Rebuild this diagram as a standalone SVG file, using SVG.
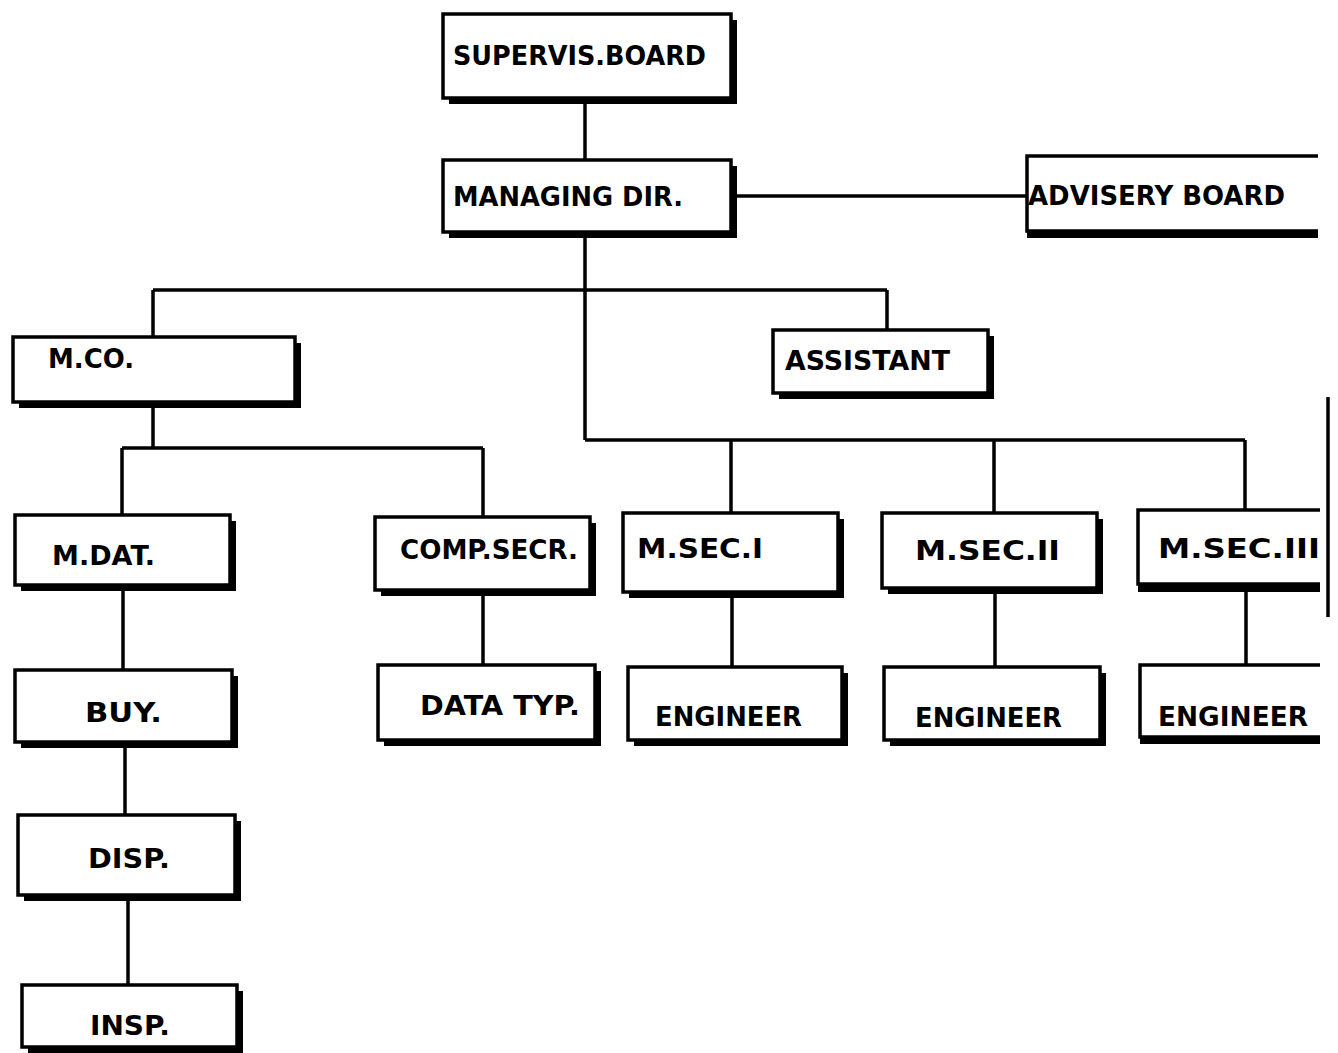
<svg xmlns="http://www.w3.org/2000/svg" width="1338" height="1053" viewBox="0 0 1338 1053">
<style>
.box{fill:#fff;stroke:#000;stroke-width:3.5}
.sh{fill:#000}
.ln{stroke:#000;stroke-width:3.5;fill:none}
.open{stroke:#000;stroke-width:3.5;fill:none}
.t{font-family:"DejaVu Sans","Liberation Sans",sans-serif;font-weight:bold;font-size:27px;fill:#000}
</style>
<rect width="1338" height="1053" fill="#fff"/>
<g id="connectors">
<path class="ln" d="M585,98V160"/>
<path class="ln" d="M736,196H1027"/>
<path class="ln" d="M585,238V440M153,290H887M153,290V337M887,290V330"/>
<path class="ln" d="M585,440H1245M731,440V513M994,440V513M1245,440V510"/>
<path class="ln" d="M153,408V448M122,448H483M122,448V515M483,448V517"/>
<path class="ln" d="M123,591V670M483,596V665M732,598V667M995,594V667M1246,590V665"/>
<path class="ln" d="M125,748V815M128,901V985"/>
<path class="ln" d="M1328,397V617"/>
</g>
<g id="sup"><rect class="sh" x="449" y="20" width="288" height="84"/><rect class="box" x="443" y="14" width="288" height="84"/><text class="t" x="453" y="65" textLength="253" lengthAdjust="spacingAndGlyphs">SUPERVIS.BOARD</text></g>
<g id="mgr"><rect class="sh" x="449" y="166" width="288" height="72"/><rect class="box" x="443" y="160" width="288" height="72"/><text class="t" x="453" y="206" textLength="230" lengthAdjust="spacingAndGlyphs">MANAGING DIR.</text></g>
<g id="adv"><rect class="sh" x="1027" y="230" width="291" height="8"/><path class="open" d="M1318,156H1027V231H1318"/><text class="t" x="1028" y="205" textLength="257" lengthAdjust="spacingAndGlyphs">ADVISERY BOARD</text></g>
<g id="mco"><rect class="sh" x="19" y="343" width="282" height="65"/><rect class="box" x="13" y="337" width="282" height="65"/><text class="t" x="48" y="368" textLength="86" lengthAdjust="spacingAndGlyphs">M.CO.</text></g>
<g id="asst"><rect class="sh" x="779" y="336" width="215" height="63"/><rect class="box" x="773" y="330" width="215" height="63"/><text class="t" x="785" y="370" textLength="165" lengthAdjust="spacingAndGlyphs">ASSISTANT</text></g>
<g id="mdat"><rect class="sh" x="21" y="521" width="215" height="70"/><rect class="box" x="15" y="515" width="215" height="70"/><text class="t" x="52" y="565" textLength="103" lengthAdjust="spacingAndGlyphs">M.DAT.</text></g>
<g id="comp"><rect class="sh" x="381" y="523" width="215" height="73"/><rect class="box" x="375" y="517" width="215" height="73"/><text class="t" x="400" y="559" textLength="178" lengthAdjust="spacingAndGlyphs">COMP.SECR.</text></g>
<g id="dtyp"><rect class="sh" x="384" y="671" width="217" height="75"/><rect class="box" x="378" y="665" width="217" height="75"/><text class="t" x="420" y="715" textLength="160" lengthAdjust="spacingAndGlyphs">DATA TYP.</text></g>
<g id="ms1"><rect class="sh" x="629" y="519" width="215" height="79"/><rect class="box" x="623" y="513" width="215" height="79"/><text class="t" x="637" y="558" textLength="126" lengthAdjust="spacingAndGlyphs">M.SEC.I</text></g>
<g id="eng1"><rect class="sh" x="634" y="673" width="214" height="73"/><rect class="box" x="628" y="667" width="214" height="73"/><text class="t" x="655" y="726" textLength="147" lengthAdjust="spacingAndGlyphs">ENGINEER</text></g>
<g id="ms2"><rect class="sh" x="888" y="519" width="215" height="75"/><rect class="box" x="882" y="513" width="215" height="75"/><text class="t" x="915" y="560" textLength="145" lengthAdjust="spacingAndGlyphs">M.SEC.II</text></g>
<g id="eng2"><rect class="sh" x="890" y="673" width="216" height="73"/><rect class="box" x="884" y="667" width="216" height="73"/><text class="t" x="915" y="727" textLength="147" lengthAdjust="spacingAndGlyphs">ENGINEER</text></g>
<g id="ms3"><rect class="sh" x="1138" y="583" width="182" height="9"/><path class="open" d="M1320,510H1138V584H1320"/><text class="t" x="1158" y="558" textLength="162" lengthAdjust="spacingAndGlyphs">M.SEC.III</text></g>
<g id="eng3"><rect class="sh" x="1140" y="736" width="180" height="8"/><path class="open" d="M1320,665H1140V737H1320"/><text class="t" x="1158" y="726" textLength="150" lengthAdjust="spacingAndGlyphs">ENGINEER</text></g>
<g id="buy"><rect class="sh" x="21" y="676" width="217" height="72"/><rect class="box" x="15" y="670" width="217" height="72"/><text class="t" x="85" y="722" textLength="77" lengthAdjust="spacingAndGlyphs">BUY.</text></g>
<g id="disp"><rect class="sh" x="24" y="821" width="217" height="80"/><rect class="box" x="18" y="815" width="217" height="80"/><text class="t" x="88" y="868" textLength="82" lengthAdjust="spacingAndGlyphs">DISP.</text></g>
<g id="insp"><rect class="sh" x="28" y="991" width="215" height="62"/><rect class="box" x="22" y="985" width="215" height="62"/><text class="t" x="90" y="1035" textLength="80" lengthAdjust="spacingAndGlyphs">INSP.</text></g>
</svg>
